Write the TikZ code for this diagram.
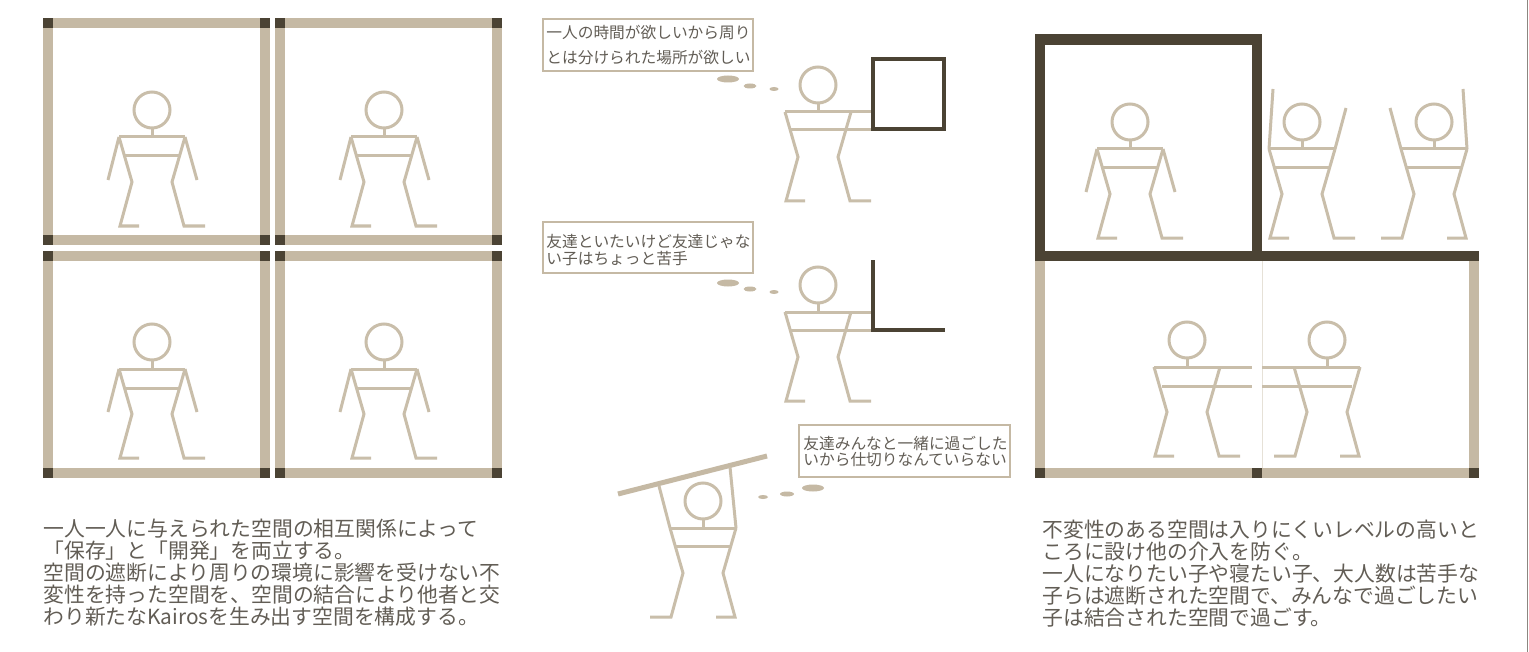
\documentclass[tikz,border=0pt]{standalone}
\usepackage{fontspec}
\newfontfamily\jp{Noto Sans CJK JP}
\definecolor{tan}{HTML}{C5B9A4}
\definecolor{figtan}{HTML}{C9BEAA}
\definecolor{dark}{HTML}{4B4334}
\definecolor{ink}{HTML}{625D55}
\definecolor{faint}{HTML}{E6E1D7}
\definecolor{edge}{HTML}{8C8780}
\tikzset{
  figline/.style={draw=figtan, line width=1.5pt},
  body/.style={font=\jp\fontsize{10.4pt}{11pt}\selectfont, text=ink, inner sep=0pt, anchor=base west},
  say/.style={font=\jp\fontsize{7.85pt}{8pt}\selectfont, text=ink, inner sep=0pt, anchor=base west},
  bubble/.style={draw=tan, line width=0.8pt},
  puff/.style={fill=tan},
}
% head, neck and legs of a stick figure (feet pointing to +x)
\newcommand\figbody{%
  \draw[figline] (0,0) circle[radius=18];
  \draw[figline] (0,18) -- (0,27);
  \draw[figline] (-33,27) -- (-20,72) -- (-32,116) -- (-13,116);
  \draw[figline] (33,27) -- (20,72) -- (32,116) -- (53,116);
}
% standing figure with arms down
\newcommand\standfig{%
  \figbody
  \draw[figline] (-33,27) -- (33,27);
  \draw[figline] (-27,46) -- (27,46);
  \draw[figline] (-33,27) -- (-44,70);
  \draw[figline] (33,27) -- (45,70);
}
% light frame with dark corner blocks: x0 y0 x1 y1
\newcommand\cellframe[4]{%
  \fill[tan] (#1,#2) rectangle (#3,#2+10);
  \fill[tan] (#1,#4-10) rectangle (#3,#4);
  \fill[tan] (#1,#2) rectangle (#1+10,#4);
  \fill[tan] (#3-10,#2) rectangle (#3,#4);
  \fill[dark] (#1,#2) rectangle (#1+10,#2+10);
  \fill[dark] (#3-10,#2) rectangle (#3,#2+10);
  \fill[dark] (#1,#4-10) rectangle (#1+10,#4);
  \fill[dark] (#3-10,#4-10) rectangle (#3,#4);
}
\begin{document}
\begin{tikzpicture}[x=0.5pt, y=-0.5pt]
\useasboundingbox (0,0) rectangle (1529,652);
\fill[white] (0,0) rectangle (1529,652);
\draw[edge, line width=0.5pt] (1527.5,0) -- (1527.5,652);

% ---------- left: four separate cells ----------
\cellframe{43}{18}{270}{245}
\cellframe{275}{18}{502}{245}
\cellframe{43}{251}{270}{478}
\cellframe{275}{251}{502}{478}
\begin{scope}[shift={(152,110)}]\standfig\end{scope}
\begin{scope}[shift={(384,110)}]\standfig\end{scope}
\begin{scope}[shift={(152,342)}]\standfig\end{scope}
\begin{scope}[shift={(384,342)}]\standfig\end{scope}

\node[body] (l1) at (43,536) {一人一人に与えられた空間の相互関係によって};
\node[body] (l2) at (43,558) {「保存」と「開発」を両立する。};
\node[body] (l3) at (43,580) {空間の遮断により周りの環境に影響を受けない不};
\node[body] (l4) at (43,602) {変性を持った空間を、空間の結合により他者と交};
\node[body] (l5) at (43,624) {わり新たなKairosを生み出す空間を構成する。};

% ---------- middle: three wishes ----------
\draw[bubble] (543,19) rectangle (753,71);
\node[say] (b1a) at (546,39) {一人の時間が欲しいから周り};
\node[say] (b1b) at (546,64) {とは分けられた場所が欲しい};
\fill[puff] (728,79) ellipse[x radius=11, y radius=3.5];
\fill[puff] (750,86) ellipse[x radius=6.5, y radius=2.5];
\fill[puff] (774,89) ellipse[x radius=4.5, y radius=2];
\begin{scope}[shift={(818,85)}]
  \figbody
  \draw[figline] (-33,27) -- (53,27);
  \draw[figline] (-27,45) -- (53,45);
\end{scope}
\draw[dark, line width=1.75pt] (873,59) rectangle (944,129);

\draw[bubble] (543,222) rectangle (753,273);
\node[say] (b2a) at (546,248) {友達といたいけど友達じゃな};
\node[say] (b2b) at (546,264) {い子はちょっと苦手};
\fill[puff] (728,283) ellipse[x radius=11, y radius=3.5];
\fill[puff] (750,289) ellipse[x radius=6.5, y radius=2.5];
\fill[puff] (774,292) ellipse[x radius=4.5, y radius=2];
\begin{scope}[shift={(818,285)}]
  \figbody
  \draw[figline] (-33,27) -- (53,27);
  \draw[figline] (-27,45) -- (53,45);
\end{scope}
\draw[dark, line width=1.75pt] (873,260) -- (873,330) -- (945,330);

\draw[bubble] (799,425) rectangle (1010,477);
\node[say] (b3a) at (803,449) {友達みんなと一緒に過ごした};
\node[say] (b3b) at (803,465) {いから仕切りなんていらない};
\fill[puff] (813,488) ellipse[x radius=11, y radius=3.5];
\fill[puff] (787,494) ellipse[x radius=7, y radius=2.5];
\fill[puff] (763,497) ellipse[x radius=5, y radius=2];
\draw[tan, line width=2.5pt] (618,494) -- (767,456);
\begin{scope}[shift={(703,501)}]
  \begin{scope}[xscale=-1]\figbody\end{scope}
  \draw[figline] (-33,27) -- (33,27);
  \draw[figline] (-27,45) -- (27,45);
  \draw[figline] (-33,27) -- (-44,-15);
  \draw[figline] (33,27) -- (27,-34);
\end{scope}

% ---------- right: closed room above an open room ----------
\fill[tan] (1035,261) rectangle (1045,478);
\fill[tan] (1469,261) rectangle (1479,478);
\fill[tan] (1035,468) rectangle (1479,478);
\fill[dark] (1035,468) rectangle (1045,478);
\fill[dark] (1252,468) rectangle (1262,478);
\fill[dark] (1469,468) rectangle (1479,478);
\draw[faint, line width=0.4pt] (1262,261) -- (1262,468);
\fill[dark] (1035,34) rectangle (1262,45);
\fill[dark] (1035,34) rectangle (1045,261);
\fill[dark] (1252,34) rectangle (1262,261);
\fill[dark] (1035,251) rectangle (1479,261);

\begin{scope}[shift={(1130,122)}]\standfig\end{scope}
\begin{scope}[shift={(1302,122)}]
  \figbody
  \draw[figline] (-33,27) -- (33,27);
  \draw[figline] (-27,46) -- (27,46);
  \draw[figline] (-33,27) -- (-29,-33);
  \draw[figline] (33,27) -- (44,-14);
\end{scope}
\begin{scope}[shift={(1434,122)}, xscale=-1]
  \figbody
  \draw[figline] (-33,27) -- (33,27);
  \draw[figline] (-27,46) -- (27,46);
  \draw[figline] (-33,27) -- (-29,-33);
  \draw[figline] (33,27) -- (44,-14);
\end{scope}
\begin{scope}[shift={(1187,340)}]
  \figbody
  \draw[figline] (-33,27) -- (65,27);
  \draw[figline] (-25,46) -- (65,46);
\end{scope}
\begin{scope}[shift={(1327,340)}, xscale=-1]
  \figbody
  \draw[figline] (-33,27) -- (65,27);
  \draw[figline] (-25,46) -- (65,46);
\end{scope}

\node[body] (r1) at (1042,537) {不変性のある空間は入りにくいレベルの高いと};
\node[body] (r2) at (1042,559) {ころに設け他の介入を防ぐ。};
\node[body] (r3) at (1042,581) {一人になりたい子や寝たい子、大人数は苦手な};
\node[body] (r4) at (1042,603) {子らは遮断された空間で、みんなで過ごしたい};
\node[body] (r5) at (1042,625) {子は結合された空間で過ごす。};
\end{tikzpicture}
\end{document}
